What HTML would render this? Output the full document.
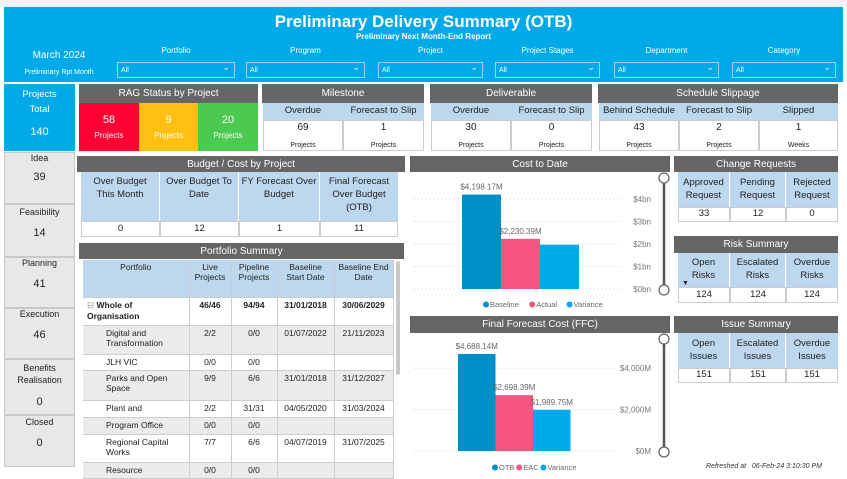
<!DOCTYPE html>
<html><head><meta charset="utf-8">
<style>
*{box-sizing:border-box;margin:0;padding:0}
body{width:847px;height:477px;overflow:hidden;background:#fff;font-family:"Liberation Sans",sans-serif;position:relative;color:#222}
.a{position:absolute}
.hdr{position:absolute;background:#666;color:#fff;font-size:10px;text-align:center;display:flex;align-items:center;justify-content:center}
.cell{position:absolute;display:flex;align-items:center;justify-content:center;text-align:center;font-size:9.5px;line-height:1.35}
.lb{background:#bdd7ee}
.wh{background:#fff;border:1px solid #ccc}
.dd{position:absolute;height:16px;border:1px solid #9ad3f2;color:#fff;font-size:7px;padding:4px 3px}
.dd:after{content:"\2304";position:absolute;right:4px;top:-1px;font-size:9px}
.fl{position:absolute;color:#fff;font-size:8px;text-align:center}
.stg{position:absolute;left:4px;width:71px;background:#e8e8e8;border:1px solid #c8c8c8;font-size:9px;text-align:center}
.stg b{display:block;font-weight:normal;font-size:11px}
.pt td{font-size:8.5px;padding:2px 3px;vertical-align:top;border-right:1px solid #ccc;border-bottom:1px solid #ccc}
</style></head><body>
<div class="a" style="left:0;top:0;width:847px;height:7px;background:#eff2f5"></div>
<div class="a" style="left:4px;top:7px;width:839px;height:75px;background:#00a9e8"></div>
<div class="a" style="left:0;width:847px;top:12px;text-align:center;color:#fff;font-weight:bold;font-size:17px">Preliminary Delivery Summary (OTB)</div>
<div class="a" style="left:0;width:847px;top:32px;text-align:center;color:#fff;font-weight:bold;font-size:8px">Preliminary Next Month-End Report</div>
<div class="a" style="left:4px;width:110px;top:50px;text-align:center;color:#fff;font-size:10px">March 2024</div>
<div class="a" style="left:4px;width:110px;top:69px;text-align:center;color:#fff;font-size:7px">Preliminary Rpt Month</div>

<div class="fl" style="left:117px;width:118px;top:46px">Portfolio</div>
<div class="dd" style="left:117px;top:62px;width:118px">All</div>
<div class="fl" style="left:246px;width:119px;top:46px">Program</div>
<div class="dd" style="left:246px;top:62px;width:119px">All</div>
<div class="fl" style="left:378px;width:105px;top:46px">Project</div>
<div class="dd" style="left:378px;top:62px;width:105px">All</div>
<div class="fl" style="left:495px;width:105px;top:46px">Project Stages</div>
<div class="dd" style="left:495px;top:62px;width:105px">All</div>
<div class="fl" style="left:614px;width:105px;top:46px">Department</div>
<div class="dd" style="left:614px;top:62px;width:105px">All</div>
<div class="fl" style="left:732px;width:104px;top:46px">Category</div>
<div class="dd" style="left:732px;top:62px;width:104px">All</div>

<div class="a" style="left:4px;top:84px;width:71px;height:67px;background:#00a9e8;color:#fff;text-align:center;font-size:9.5px;line-height:15px;padding-top:3px">Projects<br>Total<br><span style="display:block;margin-top:8px;font-size:11px">140</span></div>
<div class="stg" style="top:152px;height:52px">Idea<b style="margin-top:8px">39</b></div>
<div class="stg" style="top:204px;height:53px"><div style="margin-top:2px">Feasibility</div><b style="margin-top:10px">14</b></div>
<div class="stg" style="top:257px;height:51px">Planning<b style="margin-top:10px">41</b></div>
<div class="stg" style="top:308px;height:51px">Execution<b style="margin-top:10px">46</b></div>
<div class="stg" style="top:359px;height:56px;line-height:12px;padding-top:2px">Benefits<br>Realisation<b style="margin-top:10px">0</b></div>
<div class="stg" style="top:415px;height:52px;padding-top:1px">Closed<b style="margin-top:10px">0</b></div>

<div class="hdr" style="left:79px;top:84px;width:179px;height:19px">RAG Status by Project</div>
<div class="cell" style="left:79px;top:103px;width:60px;height:48px;background:#ff0033;color:#fff;flex-direction:column;font-size:11px">58<span style="font-size:8px;margin-top:3px">Projects</span></div>
<div class="cell" style="left:139px;top:103px;width:59px;height:48px;background:#ffc012;color:#fff;flex-direction:column;font-size:11px">9<span style="font-size:8px;margin-top:3px">Projects</span></div>
<div class="cell" style="left:198px;top:103px;width:60px;height:48px;background:#4cc950;color:#fff;flex-direction:column;font-size:11px">20<span style="font-size:8px;margin-top:3px">Projects</span></div>

<div class="hdr" style="left:262px;top:84px;width:162px;height:19px">Milestone</div>
<div class="cell lb" style="left:263px;top:103px;width:80px;height:17px">Overdue</div>
<div class="cell lb" style="left:343px;top:103px;width:81px;height:17px">Forecast to Slip</div>
<div class="cell wh" style="left:263px;top:120px;width:80px;height:31px;flex-direction:column;font-size:10px">69<span style="font-size:7px;margin-top:6px">Projects</span></div>
<div class="cell wh" style="left:343px;top:120px;width:81px;height:31px;flex-direction:column;font-size:10px">1<span style="font-size:7px;margin-top:6px">Projects</span></div>

<div class="hdr" style="left:430px;top:84px;width:162px;height:19px">Deliverable</div>
<div class="cell lb" style="left:431px;top:103px;width:80px;height:17px">Overdue</div>
<div class="cell lb" style="left:511px;top:103px;width:81px;height:17px">Forecast to Slip</div>
<div class="cell wh" style="left:431px;top:120px;width:80px;height:31px;flex-direction:column;font-size:10px">30<span style="font-size:7px;margin-top:6px">Projects</span></div>
<div class="cell wh" style="left:511px;top:120px;width:81px;height:31px;flex-direction:column;font-size:10px">0<span style="font-size:7px;margin-top:6px">Projects</span></div>

<div class="hdr" style="left:598px;top:84px;width:240px;height:19px">Schedule Slippage</div>
<div class="cell lb" style="left:599px;top:103px;width:80px;height:17px">Behind Schedule</div>
<div class="cell lb" style="left:679px;top:103px;width:80px;height:17px">Forecast to Slip</div>
<div class="cell lb" style="left:759px;top:103px;width:79px;height:17px">Slipped</div>
<div class="cell wh" style="left:599px;top:120px;width:80px;height:31px;flex-direction:column;font-size:10px">43<span style="font-size:7px;margin-top:6px">Projects</span></div>
<div class="cell wh" style="left:679px;top:120px;width:80px;height:31px;flex-direction:column;font-size:10px">2<span style="font-size:7px;margin-top:6px">Projects</span></div>
<div class="cell wh" style="left:759px;top:120px;width:79px;height:31px;flex-direction:column;font-size:10px">1<span style="font-size:7px;margin-top:6px">Weeks</span></div>

<div class="hdr" style="left:77px;top:156px;width:328px;height:16px">Budget / Cost by Project</div>
<div class="cell lb" style="left:81px;top:172px;width:79px;height:49px;align-items:flex-start;padding-top:4px;border-right:1px solid #fff">Over Budget<br>This Month</div>
<div class="cell lb" style="left:160px;top:172px;width:79px;height:49px;align-items:flex-start;padding-top:4px;border-right:1px solid #fff">Over Budget To<br>Date</div>
<div class="cell lb" style="left:239px;top:172px;width:81px;height:49px;align-items:flex-start;padding-top:4px;border-right:1px solid #fff">FY Forecast Over<br>Budget</div>
<div class="cell lb" style="left:320px;top:172px;width:78px;height:49px;align-items:flex-start;padding-top:4px">Final Forecast<br>Over Budget<br>(OTB)</div>
<div class="cell wh" style="left:81px;top:221px;width:79px;height:16px">0</div>
<div class="cell wh" style="left:160px;top:221px;width:79px;height:16px">12</div>
<div class="cell wh" style="left:239px;top:221px;width:81px;height:16px">1</div>
<div class="cell wh" style="left:320px;top:221px;width:78px;height:16px">11</div>

<div class="hdr" style="left:79px;top:243px;width:325px;height:16px">Portfolio Summary</div>
<table class="a pt" style="left:83px;top:260px;width:310px;border-collapse:collapse;table-layout:fixed">
<colgroup><col style="width:106px"><col style="width:42px"><col style="width:46px"><col style="width:57px"><col style="width:59px"></colgroup>
<tr style="background:#bdd7ee;height:37px;text-align:center"><td>Portfolio</td><td>Live Projects</td><td>Pipeline Projects</td><td>Baseline Start Date</td><td>Baseline End Date</td></tr>
<tr style="height:28px;font-weight:bold;background:#fff"><td style="font-weight:bold;padding-left:4px"><span style="color:#999;font-weight:normal">⊟</span> Whole of Organisation</td><td style="text-align:center">46/46</td><td style="text-align:center">94/94</td><td style="text-align:center">31/01/2018</td><td style="text-align:center">30/06/2029</td></tr>
<tr style="height:29px;background:#ebebeb"><td style="padding-left:23px">Digital and Transformation</td><td style="text-align:center">2/2</td><td style="text-align:center">0/0</td><td style="text-align:center">01/07/2022</td><td style="text-align:center">21/11/2023</td></tr>
<tr style="height:16px;background:#fff"><td style="padding-left:23px">JLH VIC</td><td style="text-align:center">0/0</td><td style="text-align:center">0/0</td><td></td><td></td></tr>
<tr style="height:30px;background:#ebebeb"><td style="padding-left:23px">Parks and Open Space</td><td style="text-align:center">9/9</td><td style="text-align:center">6/6</td><td style="text-align:center">31/01/2018</td><td style="text-align:center">31/12/2027</td></tr>
<tr style="height:17px;background:#fff"><td style="padding-left:23px">Plant and</td><td style="text-align:center">2/2</td><td style="text-align:center">31/31</td><td style="text-align:center">04/05/2020</td><td style="text-align:center">31/03/2024</td></tr>
<tr style="height:17px;background:#ebebeb"><td style="padding-left:23px">Program Office</td><td style="text-align:center">0/0</td><td style="text-align:center">0/0</td><td></td><td></td></tr>
<tr style="height:28px;background:#fff"><td style="padding-left:23px">Regional Capital Works</td><td style="text-align:center">7/7</td><td style="text-align:center">6/6</td><td style="text-align:center">04/07/2019</td><td style="text-align:center">31/07/2025</td></tr>
<tr style="height:16px;background:#ebebeb"><td style="padding-left:23px">Resource</td><td style="text-align:center">0/0</td><td style="text-align:center">0/0</td><td></td><td></td></tr>
</table>
<div class="a" style="left:396px;top:261px;width:4px;height:114px;background:#c8c8c8;border-radius:2px"></div>

<div class="hdr" style="left:410px;top:156px;width:260px;height:16px">Cost to Date</div>
<div class="hdr" style="left:410px;top:316px;width:260px;height:17px">Final Forecast Cost (FFC)</div>
<svg class="a" id="charts" style="left:0;top:0" width="847" height="477"></svg>

<div class="hdr" style="left:674px;top:156px;width:164px;height:16px">Change Requests</div>
<div class="cell lb" style="left:678px;top:172px;width:52px;height:35px;border-right:1px solid #fff">Approved<br>Request</div>
<div class="cell lb" style="left:730px;top:172px;width:56px;height:35px;border-right:1px solid #fff">Pending<br>Request</div>
<div class="cell lb" style="left:786px;top:172px;width:52px;height:35px">Rejected<br>Request</div>
<div class="cell wh" style="left:678px;top:207px;width:52px;height:15px">33</div>
<div class="cell wh" style="left:730px;top:207px;width:56px;height:15px">12</div>
<div class="cell wh" style="left:786px;top:207px;width:52px;height:15px">0</div>

<div class="hdr" style="left:674px;top:236px;width:164px;height:17px">Risk Summary</div>
<div class="cell lb" style="left:678px;top:253px;width:52px;height:34px;border-right:1px solid #fff">Open<br>Risks</div>
<div class="a" style="left:682px;top:280px;font-size:7px">▼</div>
<div class="cell lb" style="left:730px;top:253px;width:56px;height:34px;border-right:1px solid #fff">Escalated<br>Risks</div>
<div class="cell lb" style="left:786px;top:253px;width:52px;height:34px">Overdue<br>Risks</div>
<div class="cell wh" style="left:678px;top:287px;width:52px;height:16px">124</div>
<div class="cell wh" style="left:730px;top:287px;width:56px;height:16px">124</div>
<div class="cell wh" style="left:786px;top:287px;width:52px;height:16px">124</div>

<div class="hdr" style="left:674px;top:316px;width:164px;height:17px">Issue Summary</div>
<div class="cell lb" style="left:678px;top:333px;width:52px;height:35px;border-right:1px solid #fff">Open<br>Issues</div>
<div class="cell lb" style="left:730px;top:333px;width:56px;height:35px;border-right:1px solid #fff">Escalated<br>Issues</div>
<div class="cell lb" style="left:786px;top:333px;width:52px;height:35px">Overdue<br>Issues</div>
<div class="cell wh" style="left:678px;top:368px;width:52px;height:15px">151</div>
<div class="cell wh" style="left:730px;top:368px;width:56px;height:15px">151</div>
<div class="cell wh" style="left:786px;top:368px;width:52px;height:15px">151</div>

<div class="a" style="left:706px;top:463px;font-size:7px;font-style:italic;color:#333">Refreshed at &nbsp; 06-Feb-24 3:10:30 PM</div>

<script>
const ctdCategories=["Baseline","Actual","Variance"];
const ctdValues=[4198.17,2230.39,1967.78];
const ctdLabels=["$4,198.17M","$2,230.39M",""];
const ctdTicks=[0,1000,2000,3000,4000];
const ctdTickLabels=["$0bn","$1bn","$2bn","$3bn","$4bn"];
const ffcCategories=["OTB","EAC","Variance"];
const ffcValues=[4688.14,2698.39,1989.75];
const ffcLabels=["$4,688.14M","$2,698.39M","$1,989.75M"];
const ffcTicks=[0,2000,4000];
const ffcTickLabels=["$0M","$2,000M","$4,000M"];
const colors=["#0090c8","#f5557f","#00aaea"];
const svg=document.getElementById('charts');
const NS="http://www.w3.org/2000/svg";
function mk(t,a,txt){const e=document.createElementNS(NS,t);for(const k in a)e.setAttribute(k,a[k]);if(txt!==undefined)e.textContent=txt;svg.appendChild(e);return e;}
function chart(cfg){
  const y=v=>cfg.y0-v*cfg.scale;
  cfg.ticks.forEach((t,i)=>{
    const g=mk('line',{x1:cfg.gx1,x2:cfg.gx2,y1:y(t),y2:y(t),stroke:'#ccc','stroke-dasharray':'1,3'});
    
    
    const l=mk('text',{x:cfg.tx,y:y(t)+3,'font-size':8,fill:'#777','text-anchor':'end','font-family':'Liberation Sans'},cfg.tickLabels[i]);
    
    
  });
  cfg.values.forEach((v,i)=>{
    const x=cfg.bx+i*cfg.bw;
    const r=mk('rect',{x:x,y:y(v),width:cfg.bw,height:cfg.y0-y(v),fill:colors[i]});
    
    
    if(cfg.labels[i]){
      const t=mk('text',{x:x+cfg.bw/2,y:y(v)-5,'font-size':8,fill:'#666','text-anchor':'middle','font-family':'Liberation Sans'},cfg.labels[i]);
      
      
    }
  });
  let lx=cfg.lx;
  cfg.cats.forEach((c,i)=>{
    const d=mk('circle',{cx:lx+3,cy:cfg.ly-2.5,r:3,fill:colors[i]});
    
    
    const t=mk('text',{x:lx+7,y:cfg.ly,'font-size':7.5,fill:'#666','font-family':'Liberation Sans'},c);
    
    
    lx+=11+c.length*4.4;
  });
  const s=mk('line',{x1:cfg.sx,x2:cfg.sx,y1:cfg.s1,y2:cfg.s2,stroke:'#555','stroke-width':2.5});
  
  
  [cfg.s1,cfg.s2].forEach(yy=>{
    const c=mk('circle',{cx:cfg.sx,cy:yy,r:5,fill:'#fff',stroke:'#666','stroke-width':1.3});
    
    
  });
}
chart({cats:ctdCategories,values:ctdValues,labels:ctdLabels,ticks:ctdTicks,tickLabels:ctdTickLabels,y0:289,scale:0.0225,bx:462,bw:39,gx1:414,gx2:620,tx:651,lx:483,ly:307,sx:664,s1:178,s2:290});
chart({cats:ffcCategories,values:ffcValues,labels:ffcLabels,ticks:ffcTicks,tickLabels:ffcTickLabels,y0:451,scale:0.0207,bx:458,bw:37.5,gx1:414,gx2:615,tx:651,lx:492,ly:470,sx:664,s1:339,s2:452});
</script>
</body></html>
